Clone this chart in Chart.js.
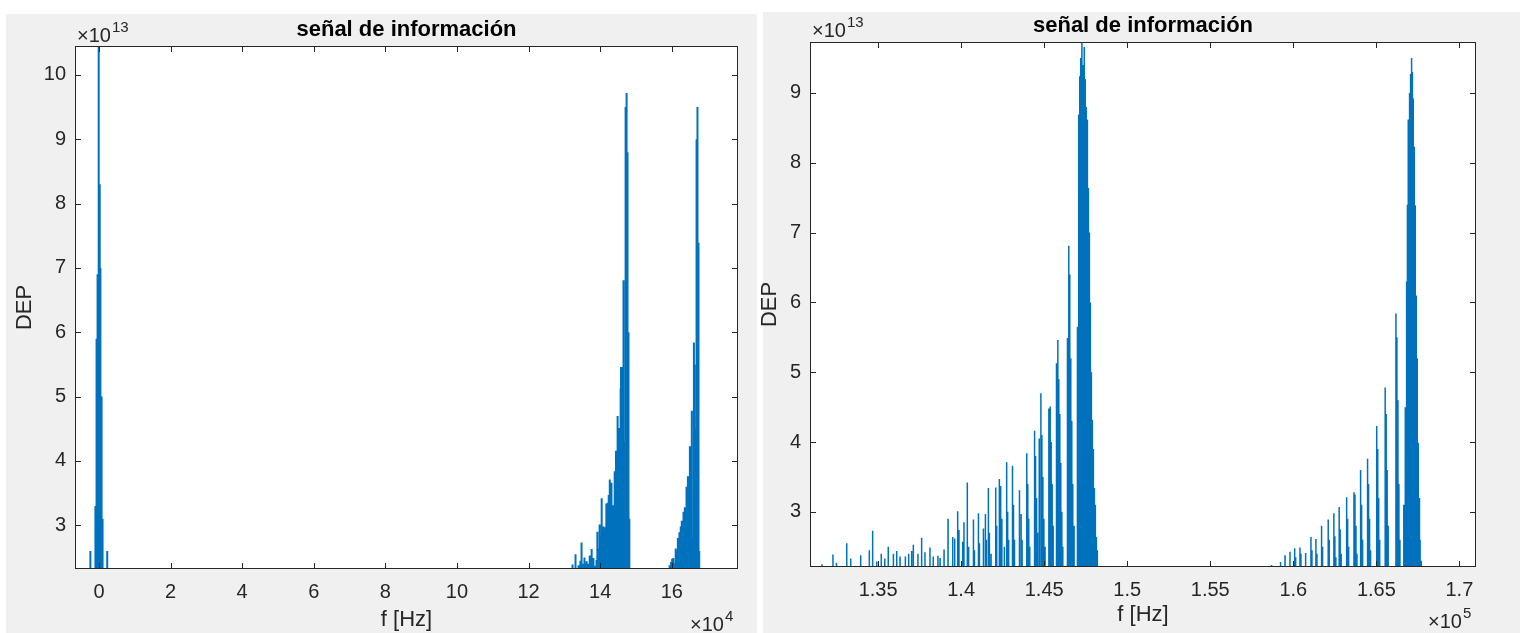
<!DOCTYPE html>
<html>
<head>
<meta charset="utf-8">
<script src="https://cdn.jsdelivr.net/npm/chart.js@4.4.0/dist/chart.umd.min.js"></script>
<style>
  html, body { margin: 0; padding: 0; background: #fff; }
  body { width: 1520px; height: 633px; position: relative; overflow: hidden; }
  .fig { position: absolute; background: #f0f0f0; }
  canvas { position: absolute; top: 0; }
</style>
</head>
<body>
<div class="fig" style="left:6px;top:14px;width:751px;height:619px"></div>
<div class="fig" style="left:763px;top:12px;width:757px;height:621px"></div>
<canvas id="chartLeft" width="760" height="633" style="left:0"></canvas>
<canvas id="chartRight" width="760" height="633" style="left:760px"></canvas>
<script>
// frequencies in kHz, DEP in units of 1e13
const dcFreq = [-2.4, -1.0, -0.8, -0.6, -0.4, -0.2, 0, 0.2, 0.4, 0.6, 0.8, 1.0, 2.3];
const dcDep  = [2.6, 3.3, 4.8, 5.9, 6.9, 10.6, 12.0, 8.3, 7.0, 5.0, 3.9, 3.1, 2.6];

const band1Freq = [131.62, 132.28, 132.49, 133.11, 133.35, 133.95, 134.47, 134.67, 134.92, 135.19,
  135.40, 135.61, 135.92, 136.12, 136.32, 136.64, 136.84, 137.02, 137.12, 137.40,
  137.62, 137.82, 138.12, 138.32, 138.60, 138.73, 138.97, 139.21, 139.49, 139.61,
  139.79, 139.87, 140.09, 140.17, 140.37, 140.45, 140.74, 140.80, 141.04, 141.10,
  141.34, 141.46, 141.52, 141.64, 141.70, 141.80, 142.08, 142.14, 142.30, 142.38,
  142.45, 142.60, 142.74, 142.80, 142.86, 143.09, 143.15, 143.21, 143.51, 143.61,
  143.67, 143.95, 144.01, 144.07, 144.13, 144.42, 144.48, 144.54, 144.60, 144.70,
  144.80, 144.86, 144.92, 144.98, 145.05, 145.28, 145.36, 145.42, 145.48, 145.54,
  145.74, 145.82, 145.88, 145.94, 146.00, 146.06, 146.12, 146.40, 146.48, 146.54,
  146.60, 146.66, 146.72, 146.80, 147.00, 147.06, 147.09, 147.14, 147.20, 147.27,
  147.34, 147.41, 147.47, 147.53, 147.60, 147.66, 147.72, 147.78, 147.84, 147.90,
  147.96, 148.02, 148.08, 148.14, 148.20];
const band1Dep = [2.25, 2.39, 2.27, 2.55, 2.33, 2.38, 2.45, 2.73, 2.29, 2.40,
  2.33, 2.50, 2.40, 2.44, 2.36, 2.36, 2.40, 2.44, 2.53, 2.40,
  2.63, 2.42, 2.49, 2.36, 2.37, 2.34, 2.46, 2.90, 2.64, 2.62,
  3.01, 2.74, 2.57, 2.85, 3.42, 2.50, 2.89, 2.45, 2.98, 2.55,
  2.76, 2.97, 2.60, 3.34, 2.70, 2.40, 3.35, 2.80, 3.47, 3.37,
  2.90, 2.50, 3.71, 3.00, 2.60, 3.66, 3.10, 2.60, 3.31, 2.97,
  2.60, 3.84, 3.40, 2.90, 2.50, 4.16, 3.80, 3.20, 2.70, 4.05,
  4.70, 4.10, 3.50, 2.90, 2.50, 4.48, 4.51, 4.00, 3.40, 2.80,
  5.13, 5.46, 4.90, 4.40, 3.70, 3.00, 2.50, 5.49, 6.81, 6.40,
  5.20, 4.30, 3.40, 2.80, 5.65, 7.10, 8.69, 9.24, 9.50, 9.72,
  9.40, 9.66, 9.20, 8.80, 8.62, 7.64, 7.00, 6.00, 5.00, 4.32,
  3.90, 3.34, 3.10, 2.64, 2.45];

const band2Freq = [158.69, 159.23, 159.50, 159.80, 160.08, 160.14, 160.40, 160.46, 160.74, 161.06,
  161.12, 161.36, 161.42, 161.70, 161.76, 162.10, 162.16, 162.44, 162.50, 162.56,
  162.76, 162.82, 162.88, 163.21, 163.27, 163.33, 163.65, 163.71, 163.77, 163.83,
  164.05, 164.11, 164.17, 164.47, 164.53, 164.59, 164.65, 165.02, 165.08, 165.14,
  165.20, 165.53, 165.59, 165.65, 165.71, 166.18, 166.24, 166.30, 166.36, 166.42,
  166.65, 166.74, 166.82, 166.87, 166.92, 166.97, 167.02, 167.06, 167.12, 167.17,
  167.22, 167.28, 167.34, 167.40, 167.46, 167.52, 167.58, 167.63, 167.70];
const band2Dep = [2.24, 2.28, 2.38, 2.43, 2.48, 2.35, 2.49, 2.40, 2.41, 2.64,
  2.45, 2.61, 2.40, 2.80, 2.50, 2.89, 2.60, 2.98, 2.65, 2.35,
  3.07, 2.75, 2.40, 3.21, 2.90, 2.50, 3.28, 3.25, 2.80, 2.40,
  3.60, 3.10, 2.60, 3.76, 3.40, 2.90, 2.45, 4.23, 3.90, 3.20,
  2.60, 4.78, 4.40, 3.60, 2.80, 5.84, 5.50, 4.60, 3.40, 2.60,
  3.10, 4.50, 6.30, 7.40, 8.62, 8.80, 9.00, 9.27, 9.50, 9.30,
  8.92, 8.23, 7.39, 6.10, 5.20, 3.99, 3.20, 2.60, 2.30];

const leftXTicks = [0, 2, 4, 6, 8, 10, 12, 14, 16];          // x 1e4 Hz
const leftYTicks = [3, 4, 5, 6, 7, 8, 9, 10];
const rightXTicks = [1.35, 1.4, 1.45, 1.5, 1.55, 1.6, 1.65, 1.7]; // x 1e5 Hz
const rightYTicks = [3, 4, 5, 6, 7, 8, 9];

const font = "'Liberation Sans', Arial, Helvetica, sans-serif";
const axisColor = '#262626';

function spikes(freqs, deps) {
    const pts = [];
    freqs.forEach(function(f, i) {
        pts.push({x: f - 0.004, y: 0}, {x: f, y: deps[i]}, {x: f + 0.004, y: 0});
    });
    return pts;
}
const points = spikes(dcFreq, dcDep).concat(spikes(band1Freq, band1Dep), spikes(band2Freq, band2Dep));

function drawExp(ctx, exp, x, y) {
    ctx.textAlign = 'left';
    ctx.font = '20px ' + font;
    ctx.fillText('\u00d710', x, y);
    const w = ctx.measureText('\u00d710').width;
    ctx.font = '15px ' + font;
    ctx.fillText(exp, x + w + 1, y - 10);
}

const matlabAxes = {
    id: 'matlabAxes',
    beforeDraw(chart) {
        const {ctx, chartArea: a} = chart;
        ctx.save();
        ctx.fillStyle = '#fff';
        ctx.fillRect(a.left, a.top, a.right - a.left, a.bottom - a.top);
        ctx.restore();
    },
    afterDraw(chart, args, o) {
        const {ctx, chartArea: a, scales} = chart;
        ctx.save();
        ctx.strokeStyle = axisColor;
        ctx.lineWidth = 1;
        ctx.beginPath();
        scales.x.ticks.forEach(function(t) {
            const px = Math.round(scales.x.getPixelForValue(t.value)) + 0.5;
            ctx.moveTo(px, a.bottom); ctx.lineTo(px, a.bottom - 6);
            ctx.moveTo(px, a.top); ctx.lineTo(px, a.top + 6);
        });
        scales.y.ticks.forEach(function(t) {
            const py = Math.round(scales.y.getPixelForValue(t.value)) + 0.5;
            ctx.moveTo(a.left, py); ctx.lineTo(a.left + 6, py);
            ctx.moveTo(a.right, py); ctx.lineTo(a.right - 6, py);
        });
        ctx.stroke();
        ctx.strokeRect(a.left + 0.5, a.top + 0.5, a.right - a.left - 1, a.bottom - a.top - 1);

        ctx.fillStyle = '#000';
        ctx.font = 'bold 22px ' + font;
        ctx.textAlign = 'center';
        ctx.textBaseline = 'alphabetic';
        ctx.fillText(o.title, (a.left + a.right) / 2, o.titleY);

        ctx.fillStyle = axisColor;
        ctx.font = '22px ' + font;
        ctx.fillText(o.xLabel, (a.left + a.right) / 2, o.xLabelY);
        ctx.save();
        ctx.translate(o.yLabelX, (a.top + a.bottom) / 2);
        ctx.rotate(-Math.PI / 2);
        ctx.textBaseline = 'middle';
        ctx.fillText(o.yLabel, 0, 0);
        ctx.restore();

        drawExp(ctx, o.yExp, o.yExpX, o.yExpY);
        drawExp(ctx, o.xExp, o.xExpX, o.xExpY);
        ctx.restore();
    }
};

function makeChart(id, c) {
    return new Chart(document.getElementById(id), {
        type: 'line',
        data: {
            datasets: [{
                data: points,
                borderColor: '#0072BD',
                borderWidth: c.lineWidth,
                pointRadius: 0,
                fill: false,
                tension: 0,
                clip: 0
            }]
        },
        options: {
            responsive: false,
            animation: false,
            events: [],
            devicePixelRatio: 1,
            layout: {padding: c.padding},
            plugins: {
                legend: {display: false},
                tooltip: {enabled: false},
                matlabAxes: c.text
            },
            scales: {
                x: {
                    type: 'linear',
                    min: c.xMin, max: c.xMax,
                    afterFit: function(s) { s.height = 30; },
                    afterBuildTicks: function(s) { s.ticks = c.xTicks.map(function(v) { return {value: v * c.xMult}; }); },
                    grid: {display: true, color: 'transparent', drawTicks: false, drawOnChartArea: false},
                    border: {display: false},
                    ticks: {
                        font: {family: font, size: 20}, color: axisColor, padding: 11,
                        maxRotation: 0, autoSkip: false,
                        callback: function(v, i) { return String(c.xTicks[i]); }
                    }
                },
                y: {
                    type: 'linear',
                    min: c.yMin, max: c.yMax,
                    afterFit: function(s) { s.width = c.yWidth; },
                    afterBuildTicks: function(s) { s.ticks = c.yTicks.map(function(v) { return {value: v}; }); },
                    grid: {display: true, color: 'transparent', drawTicks: false, drawOnChartArea: false},
                    border: {display: false},
                    ticks: {
                        font: {family: font, size: 20}, color: axisColor, padding: 9,
                        autoSkip: false,
                        callback: function(v, i) { return String(c.yTicks[i]); }
                    }
                }
            }
        },
        plugins: [matlabAxes]
    });
}

makeChart('chartLeft', {
    padding: {left: 30, right: 22, top: 46, bottom: 34},
    yWidth: 45, lineWidth: 2,
    xMin: -6.7, xMax: 178.5, yMin: 2.32, yMax: 10.45,
    xTicks: leftXTicks, xMult: 10, yTicks: leftYTicks,
    text: {title: 'se\u00f1al de informaci\u00f3n', titleY: 36, xLabel: 'f [Hz]', xLabelY: 626,
        yLabel: 'DEP', yLabelX: 25, yExp: '13', yExpX: 77, yExpY: 42, xExp: '4', xExpX: 690, xExpY: 631}
});

makeChart('chartRight', {
    padding: {left: 20, right: 44, top: 42, bottom: 36},
    yWidth: 30, lineWidth: 1.5,
    xMin: 130.9, xMax: 171.0, yMin: 2.21, yMax: 9.73,
    xTicks: rightXTicks, xMult: 100, yTicks: rightYTicks,
    text: {title: 'se\u00f1al de informaci\u00f3n', titleY: 32, xLabel: 'f [Hz]', xLabelY: 621,
        yLabel: 'DEP', yLabelX: 10, yExp: '13', yExpX: 52, yExpY: 37, xExp: '5', xExpX: 668, xExpY: 628}
});
</script>
</body>
</html>
